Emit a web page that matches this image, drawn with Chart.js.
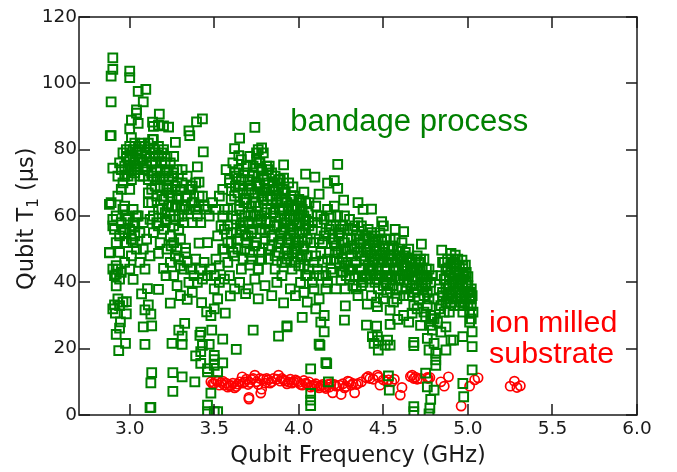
<!DOCTYPE html>
<html>
<head>
<meta charset="utf-8">
<style>
html, body { margin: 0; padding: 0; background: #fff; }
#wrap { width: 677px; height: 472px; }
</style>
<script src="https://cdn.jsdelivr.net/npm/chart.js@4"></script>
</head>
<body>
<div id="wrap"><canvas id="chart" width="677" height="472"></canvas></div>
<script>
// [frequency GHz, T1 us]
const bandageTop = [[2.9,107.7],[2.9,104.2],[2.89,102.2],[3,103.7],[3,101.7],[3.05,97.6],[3.095,98.2],[3.08,94.4],[2.89,94.4],[3.04,92],[3.04,91],[3.01,88.9],[3.05,87.9],[3,86.3],[2.885,84.2],[2.89,84.2],[3.01,83.6],[3.175,90.7],[3.135,88.3],[3.17,87.4],[3.2,87.2],[3.23,86.8],[3.14,87],[3.43,89.3],[3.395,88.4],[3.35,85.7],[3.355,84.2],[3.27,82.2],[3.135,83.1],[3.435,79.3],[2.9,74.4],[3.74,86.7],[3.65,83.5],[3.62,80.3],[3.645,78.2],[3.76,80],[3.78,80.5],[3.75,79],[3.91,75.4],[4.23,75.6],[4.04,72.6],[4.095,71.7],[4.17,69.9],[4.21,70.7],[4.23,68.3],[3.965,68.8],[3.91,71.4],[4.03,67.2],[4.12,66.6],[4.265,64.8],[4.35,64],[4.38,62],[4.43,62.1],[4.49,58.3],[4.5,57],[4.57,56],[4.62,55.3],[4.725,51.5],[4.845,49.7],[4.9,48.7],[4.925,48.2],[4.965,46.7],[4.985,45.2],[5,41.7]];

const bandageLeft = [[2.88,63.5],[2.89,64],[2.9,59],[2.91,56],[2.93,66],[2.95,68],[2.96,62],[2.92,52],[2.94,49],[2.88,49],[2.96,56],[2.93,44],[2.95,43],[2.97,46],[2.92,42.5],[2.94,41],[2.98,52],[2.99,59],[2.97,63],[3,68],[2.95,74],[2.97,75],[2.99,72],[3,77],[2.98,78],[3.01,74],[2.96,70],[3.02,80],[3.03,76],[3.04,79],[3.05,74],[3.06,81],[3.07,77],[3.08,72],[3.09,79],[3.1,75],[3.11,82],[3.12,78],[3.13,73],[3.14,80],[3.15,76],[3.16,71],[3.17,78],[3.18,74],[3.19,79],[3.2,72],[3.21,76],[3.22,69],[3.11,67],[3.13,64],[3.15,69],[3.17,62],[3.19,66],[3.21,61],[3.23,67],[3.25,72],[3.27,69],[3.28,74],[3.29,65],[3.31,70],[3.32,62],[3.34,66],[3.37,69],[3.39,62],[3.41,66],[3.44,63],[3.25,63],[3.27,59],[3.29,56],[3.31,60],[3.37,64],[3.02,62],[3.03,57],[3.05,60],[3.06,55],[3.08,58],[3.1,53],[3.12,59],[3.14,55],[3.16,58],[3.18,52],[3.2,56],[3.22,59],[3.24,54],[3.01,48],[3,44],[3.02,52],[3.04,50],[3.06,46],[3.08,50],[3.09,44],[3.12,48],[3.17,48.7],[3.245,51],[3.2,44.2],[3.215,42],[2.88,48.9],[2.92,38.9],[3.02,40.9],[3.105,38.1],[3.17,37.9],[3.07,36.5],[3.11,33.2],[3.09,31.7],[3.125,30.4],[2.91,33.2],[2.915,30.7],[2.98,34.2],[2.98,30.5],[2.945,28.1],[2.94,26.2],[2.92,24.3],[2.975,21.6],[2.935,19.4],[3.09,21.3],[3.08,26.6],[3.13,26.9],[3.13,12.8],[3.125,9.7],[3.125,2.3],[3.12,2.2],[3.255,12.8],[3.31,11.5],[3.385,10],[3.255,7.1],[3.48,6.6],[3.46,3],[3.46,1],[3.5,1],[3.52,1],[3.325,27.6],[3.29,25.6],[3.31,23.8],[3.25,21.6],[3.31,21.3],[3.42,25],[3.415,24],[3.485,25.6],[3.55,22.9],[3.47,21.3],[3.63,19.8],[3.39,17.8],[3.42,19.1],[3.42,15.6],[3.5,18],[3.5,16.7],[3.5,15],[3.55,15.7],[3.46,14],[3.46,13],[3.52,13],[3.43,21],[3.24,33.7],[3.34,34.9],[3.28,39],[3.3,36],[3.26,42],[3.32,44],[3.35,40],[3.37,37],[3.29,47],[3.33,49],[3.43,41],[3.42,44],[3.44,46],[3.46,42],[3.425,33.9],[3.455,31.1],[3.48,30],[3.5,32],[3.52,35],[3.565,30.7],[3.595,35.9],[3.5,38],[3.53,40],[3.48,44],[3.51,47],[3.55,50],[3.46,52]];

const bandageWest = [[2.93,72],[2.94,76],[2.96,79],[2.97,72],[2.98,80],[2.99,75],[3,81],[3.01,71],[3.02,78],[3.03,82],[3.03,73],[3.04,75],[3.05,80],[3.06,77],[3.06,72],[3.07,82],[3.08,76],[3.09,74],[3.09,81],[3.1,78],[3.11,71],[3.12,80],[3.13,76],[3.14,72],[3.14,83],[3.15,79],[3.16,74],[3.17,81],[3.18,71],[3.19,76],[3.2,80],[3.21,73],[3.22,78],[3.23,71],[3.24,76],[3.25,68],[3.26,73],[3.11,64],[3.13,68],[3.14,60],[3.16,66],[3.17,57],[3.18,69],[3.19,62],[3.2,65],[3.21,58],[3.22,68],[3.23,63],[3.24,60],[3.25,66],[3.26,57],[3.27,63],[3.28,66],[3.29,60],[3.3,68],[3.31,63],[3.32,58],[3.33,66],[3.34,72],[3.35,62],[3.36,68],[3.37,58],[3.38,64],[3.39,70],[3.4,60],[3.41,63],[3.42,58],[3.43,66],[2.9,57],[2.92,60],[2.94,54],[2.95,58],[2.97,55],[2.98,60],[3,56],[3.01,53],[3.02,58],[3.03,54],[3.04,60],[2.9,44],[2.91,42],[2.92,45],[2.9,32],[2.93,35],[2.94,33],[2.96,34],[3.45,62],[3.47,60],[3.49,64],[3.51,62],[3.53,66],[3.55,60],[3.56,56],[3.26,52],[3.28,50],[3.3,53],[3.27,48],[3.24,46],[3.22,50],[3.3,45],[3.34,46],[3.36,44],[3.39,47],[3.41,51.8],[3.33,50.3],[3.5,42],[3.53,45],[3.56,41],[3.58,52],[3.52,54],[3.54,57],[3.4,40],[3.38,42],[3.33,63],[3.35,68],[3.28,70],[3.31,74],[3.26,78],[3.22,74],[3.4,74.8],[3.41,70.2]];

const bandageCore = [[3.55,68],[3.56,62],[3.57,74],[3.58,57],[3.59,70],[3.6,65],[3.61,60],[3.62,73],[3.63,55],[3.64,67],[3.65,62],[3.66,71],[3.67,58],[3.68,65],[3.69,75],[3.7,61],[3.71,69],[3.72,55],[3.73,73],[3.74,64],[3.75,70],[3.76,58],[3.77,76],[3.78,66],[3.79,72],[3.8,61],[3.81,68],[3.82,74],[3.83,56],[3.84,65],[3.85,70],[3.86,60],[3.87,66],[3.88,71],[3.89,54],[3.9,62],[3.91,67],[3.92,58],[3.93,64],[3.94,52],[3.95,60],[3.96,65],[3.97,55],[3.98,62],[3.99,50],[4,58],[4.01,63],[4.02,53],[4.03,60],[4.04,56],[4.05,48],[4.06,64],[4.07,52],[4.08,58],[4.09,46],[3.58,62],[3.59,71],[3.6,55],[3.61,76],[3.61,49],[3.62,66],[3.63,59],[3.63,72],[3.64,50],[3.65,69],[3.65,63],[3.66,77],[3.66,56],[3.67,47],[3.67,68],[3.68,73],[3.68,60],[3.69,52],[3.69,65],[3.7,71],[3.7,58],[3.71,78],[3.71,49],[3.72,63],[3.72,68],[3.73,56],[3.73,75],[3.74,60],[3.74,67],[3.75,52],[3.75,77],[3.76,72],[3.76,63],[3.77,56],[3.77,69],[3.78,47],[3.78,74],[3.78,60],[3.79,65],[3.79,79],[3.8,68],[3.8,55],[3.81,75],[3.81,62],[3.82,70],[3.82,50],[3.83,58],[3.83,66],[3.84,73],[3.84,54],[3.85,61],[3.85,68],[3.86,48],[3.86,72],[3.87,57],[3.87,64],[3.88,52],[3.88,68],[3.89,60],[3.89,71],[3.9,46],[3.9,65],[3.91,56],[3.91,62],[3.92,50],[3.92,67],[3.93,59],[3.93,47],[3.94,63],[3.94,70],[3.95,54],[3.95,57],[3.96,62],[3.96,49],[3.97,66],[3.97,59],[3.98,53],[3.98,46],[3.99,63],[3.99,57],[4,52],[4,65],[4.01,47],[4.01,60],[4.02,55],[4.02,62],[4.03,50],[4.03,45],[4.04,59],[4.04,64],[4.05,53],[4.05,42],[4.06,57],[3.625,69],[3.645,74],[3.655,57],[3.675,64],[3.685,54],[3.695,75],[3.705,67],[3.715,60],[3.725,72],[3.735,51],[3.745,64],[3.755,69],[3.765,76],[3.775,59],[3.785,67],[3.795,71],[3.805,58],[3.815,66],[3.825,75],[3.835,62],[3.845,69],[3.855,57],[3.865,65],[3.875,70],[3.885,62],[3.895,55],[3.905,68],[3.915,59],[3.925,64],[3.935,53],[3.945,60],[3.955,66],[3.965,56],[3.975,62],[3.985,51],[3.995,60],[4.005,55],[4.015,64],[4.025,51],[4.035,57],[4.045,48],[4.055,61],[3.56,50],[3.58,46],[3.6,52],[3.62,48],[3.64,53],[3.66,44],[3.68,50],[3.7,54],[3.72,47],[3.74,51],[3.76,44],[3.78,49],[3.8,53],[3.82,47],[3.84,51],[3.86,44],[3.88,49],[3.9,53],[3.92,46],[3.94,48],[3.96,44],[3.98,50],[4,45],[4.02,48],[4.04,42],[4.06,44],[4.08,40],[3.71,45.2],[3.76,44],[3.685,36.6],[3.76,35],[3.91,33.8],[3.73,25.6],[3.88,23.8],[3.93,26.6],[3.93,26.9],[3.59,42],[3.62,38],[3.65,40],[3.7,38],[3.74,41],[3.8,39],[3.84,36],[3.87,40],[3.9,42],[3.95,38],[3.98,36],[4.01,40],[4.03,37],[4.02,29.4],[4.05,34],[4.15,25.1],[4.12,21.4],[4.125,21],[4.16,15.8],[4.165,15.5],[4.07,13.9],[4.07,6.5],[4.07,4.5],[4.07,2.8],[4.175,10],[4.275,32.9],[4.27,28.6],[4.1,32],[4.15,30],[4.12,35],[4.16,38],[4.13,28],[4.09,38]];

const bandageRidge = [[4.08,56],[4.09,52],[4.1,63],[4.1,48],[4.11,58],[4.12,42],[4.12,53],[4.13,60],[4.14,46],[4.14,52],[4.15,59],[4.16,42],[4.16,55],[4.17,62],[4.18,49],[4.18,56],[4.19,44],[4.19,60],[4.2,53],[4.21,47],[4.21,63],[4.22,57],[4.22,51],[4.23,60],[4.24,46],[4.24,55],[4.25,50],[4.26,43],[4.26,57],[4.27,52],[4.27,60],[4.28,46],[4.29,56],[4.29,50],[4.3,44],[4.3,59],[4.31,53],[4.31,48],[4.32,56],[4.33,42],[4.33,50],[4.34,54],[4.34,46],[4.35,58],[4.36,44],[4.36,52],[4.37,48],[4.37,57],[4.38,53],[4.39,42],[4.39,47],[4.4,54],[4.4,50],[4.41,45],[4.41,56],[4.42,41],[4.42,51],[4.43,48],[4.43,55],[4.44,44],[4.44,52],[4.45,47],[4.45,54],[4.46,41],[4.46,50],[4.47,53],[4.47,44],[4.48,48],[4.48,55],[4.49,42],[4.49,46],[4.5,51],[4.5,39],[4.51,48],[4.51,53],[4.52,44],[4.52,41],[4.53,50],[4.53,46],[4.54,38],[4.54,53],[4.55,42],[4.55,47],[4.56,50],[4.56,44],[4.57,41],[4.57,53],[4.58,47],[4.58,38],[4.59,44],[4.59,50],[4.6,41],[4.6,47],[4.61,52],[4.61,38],[4.62,45],[4.62,48],[4.63,42],[4.63,49],[4.64,46],[4.64,40],[4.65,50],[4.65,36],[4.66,43],[4.66,46],[4.67,39],[4.67,47],[4.68,44],[4.68,37],[4.69,47],[4.69,41],[4.7,44],[4.7,48],[4.71,39],[4.71,35],[4.72,42],[4.72,47],[4.73,40],[4.73,44],[4.74,36],[4.74,47],[4.75,42],[4.75,39],[4.76,37],[4.76,41],[4.77,44],[4.77,35],[4.78,40],[4.11,60],[4.13,49],[4.15,54],[4.17,47],[4.19,57],[4.21,52],[4.23,49],[4.25,56],[4.27,45],[4.29,53],[4.31,44],[4.33,57],[4.35,49],[4.37,44],[4.39,54],[4.41,49],[4.43,44],[4.45,51],[4.47,47],[4.49,53],[4.51,44],[4.53,42],[4.55,51],[4.57,46],[4.59,41],[4.61,47],[4.63,45],[4.65,42],[4.67,44],[4.69,44],[4.71,46],[4.73,42],[4.11,44],[4.14,42],[4.17,40],[4.2,43],[4.22,38],[4.25,40.7],[4.275,38],[4.34,38],[4.32,39],[4.35,36],[4.38,40],[4.43,36],[4.46,34],[4.5,35],[4.56,34],[4.405,33.4],[4.465,32.7],[4.4,27.1],[4.46,26.8],[4.54,31.6],[4.585,28.8],[4.54,27.3],[4.62,30],[4.65,28],[4.67,30.7],[4.72,27],[4.75,29.6],[4.78,30],[4.79,29],[4.78,27],[4.76,33],[4.74,31],[4.8,29],[4.215,49],[4.235,54],[4.255,47],[4.275,50],[4.295,44],[4.315,51],[4.335,46],[4.355,53],[4.375,41],[4.395,50],[4.415,53],[4.435,46],[4.455,42],[4.475,50],[4.495,49],[4.515,40],[4.535,48],[4.555,39],[4.575,44],[4.595,48],[4.615,42],[4.635,38],[4.655,47],[4.675,41],[4.695,38],[4.715,44],[4.735,38],[4.755,44],[4.5,47],[4.48,42],[4.45,40],[4.42,44],[4.4,42],[4.37,39],[4.3,41],[4.28,42],[4.47,38],[4.52,37],[4.58,35],[4.62,36],[4.68,33],[4.7,32]];

const bandageTail = [[4.79,42],[4.8,35],[4.82,28],[4.83,32],[4.84,25],[4.83,38],[4.84,42],[4.84,33],[4.85,46],[4.85,36],[4.86,41],[4.86,31],[4.87,44],[4.87,38],[4.88,47],[4.88,35],[4.89,42],[4.89,39],[4.9,45],[4.9,34],[4.91,41],[4.91,37],[4.92,46],[4.92,44],[4.93,40],[4.93,35],[4.94,47],[4.94,42],[4.95,37],[4.95,45],[4.96,41],[4.96,34],[4.97,43],[4.97,39],[4.98,37],[4.98,42],[4.99,35],[4.99,40],[5,39],[5,33],[5.01,37],[5.01,31],[5.02,35],[5.02,38],[4.85,37],[4.86,46],[4.87,41],[4.88,44],[4.89,36],[4.9,47],[4.91,40],[4.92,33],[4.93,45],[4.94,38],[4.95,43],[4.96,36],[4.97,41],[4.98,34],[4.99,39],[5,37],[5.01,35],[5.02,33],[5.03,31],[5.02,29],[5.025,36],[4.99,43],[4.97,31],[4.95,33],[4.93,37],[4.91,35],[4.89,31],[4.87,34],[5.01,28],[4.95,40],[4.97,45],[4.9,43],[4.435,23.6],[4.465,23.6],[4.47,22.4],[4.445,21.6],[4.47,19.6],[4.525,22.6],[4.54,21.1],[4.51,21.1],[4.68,21.9],[4.68,20.9],[4.76,23.1],[4.77,19.6],[4.79,25.6],[4.8,21.6],[4.81,18.6],[4.81,16.6],[4.81,15],[4.87,19.6],[4.87,26.6],[4.9,22.6],[4.915,22.6],[4.97,23.6],[5.025,25.1],[5.025,20.6],[5.025,13.6],[4.97,9.5],[4.975,5.5],[4.53,11.8],[4.535,7.5],[4.68,2.5],[4.68,1],[4.75,12.6],[4.76,8.5],[4.8,7.5],[4.78,4.7],[4.775,2.1],[4.77,0.3]];

const milledPoints = [[3.48,10],[3.5,9.5],[3.52,10.2],[3.54,9.8],[3.56,9],[3.58,8.4],[3.6,8.9],[3.62,8.2],[3.64,9.3],[3.665,11.5],[3.68,10],[3.7,9.2],[3.705,4.8],[3.705,5.3],[3.72,10.7],[3.74,12],[3.75,10],[3.775,6.6],[3.78,7.8],[3.79,10.8],[3.81,11],[3.83,9.6],[3.85,11],[3.88,12],[3.89,10.2],[3.91,10.6],[3.93,9.4],[3.95,10.8],[3.97,10],[3.99,10.2],[4.01,9.2],[4.03,10.4],[4.05,9.3],[4.07,8.4],[4.09,9],[4.11,8.7],[4.13,8.8],[4.15,8.5],[4.17,9.2],[4.19,9.4],[4.2,6.7],[4.22,8.7],[4.25,6.2],[4.26,9.4],[4.28,8.6],[4.3,10],[4.32,9.5],[4.33,6.7],[4.35,9.5],[4.4,11.2],[4.42,11],[4.465,12],[4.48,9],[4.5,10.6],[4.53,10.6],[4.565,10.8],[4.6,6],[4.61,8.3],[4.67,12],[4.68,11],[4.7,10.8],[4.76,11.3],[4.775,11.3],[4.84,10],[4.86,8.7],[4.885,11.5],[4.96,2.7],[5.01,8.7],[5.04,10.6],[5.06,11.2],[5.25,8.7],[5.275,10.2],[5.29,8.3],[5.31,8.8],[3.49,9.4],[3.51,10.4],[3.53,9],[3.55,10.2],[3.57,9.6],[3.59,8.8],[3.61,9.6],[3.63,8.6],[3.65,10],[3.67,9.6],[3.69,10.8],[3.71,9.8],[3.73,11],[3.76,9.2],[3.77,11],[3.8,9.6],[3.82,10.6],[3.84,10],[3.87,10.8],[3.9,11],[3.92,10.2],[3.94,10],[3.96,9.6],[3.98,10.6],[4,9.8],[4.02,9],[4.04,9.6],[4.06,10],[4.08,8.8],[4.1,9.4],[4.12,8.2],[4.14,9.2],[4.16,8],[4.18,8.4],[4.21,9.2],[4.24,9],[4.27,8.2],[4.29,10.2],[4.31,9],[4.34,9.2],[4.37,10],[4.41,11.6],[4.44,10.8],[4.47,11.4],[4.52,10],[4.55,10],[4.66,11.6],[4.69,11.4],[4.72,11],[4.765,11]];

const bandagePoints = bandageTop.concat(bandageLeft, bandageWest, bandageCore, bandageRidge, bandageTail);

const xTickValues = [3, 3.5, 4, 4.5, 5, 5.5, 6];
const yTickValues = [0, 20, 40, 60, 80, 100, 120];

const darkGreen = '#008000';
const red = '#ff0000';
const inkColor = '#1a1a1a';

const toXY = p => ({ x: p[0], y: p[1] });

// spine and inward ticks on all four sides, text notes in data coordinates
const framePlugin = {
    id: 'frame',
    afterDatasetsDraw(chart) {
        const { ctx, chartArea: a, scales } = chart;
        ctx.save();
        ctx.strokeStyle = inkColor;
        ctx.lineWidth = 1.5;
        ctx.strokeRect(a.left, a.top, a.right - a.left, a.bottom - a.top);
        ctx.beginPath();
        xTickValues.forEach(v => {
            const x = Math.round(scales.x.getPixelForValue(v));
            ctx.moveTo(x, a.bottom); ctx.lineTo(x, a.bottom - 11);
            ctx.moveTo(x, a.top); ctx.lineTo(x, a.top + 11);
        });
        yTickValues.forEach(v => {
            const y = Math.round(scales.y.getPixelForValue(v));
            ctx.moveTo(a.left, y); ctx.lineTo(a.left + 11, y);
            ctx.moveTo(a.right, y); ctx.lineTo(a.right - 11, y);
        });
        ctx.stroke();

        ctx.font = '31px "Liberation Sans"';
        ctx.textBaseline = 'alphabetic';
        ctx.fillStyle = darkGreen;
        ctx.fillText('bandage process', scales.x.getPixelForValue(3.95), scales.y.getPixelForValue(85.5));
        ctx.font = '30.4px "Liberation Sans"';
        ctx.fillStyle = red;
        ctx.fillText('ion milled', scales.x.getPixelForValue(5.125), scales.y.getPixelForValue(25));
        ctx.fillText('substrate', scales.x.getPixelForValue(5.125), scales.y.getPixelForValue(15.8));

        // y title by hand because of the subscript
        ctx.translate(33, 290);
        ctx.rotate(-Math.PI / 2);
        ctx.fillStyle = inkColor;
        ctx.font = '22.5px "DejaVu Sans"';
        let pen = 0;
        ctx.fillText('Qubit T', pen, 0);
        pen += ctx.measureText('Qubit T').width;
        ctx.font = '15px "DejaVu Sans"';
        ctx.fillText('1', pen, 5);
        pen += ctx.measureText('1').width;
        ctx.font = '22.5px "DejaVu Sans"';
        ctx.fillText(' (µs)', pen, 0);
        ctx.restore();
    }
};

new Chart(document.getElementById('chart'), {
    type: 'scatter',
    data: {
        datasets: [{
            data: bandagePoints.map(toXY),
            pointStyle: 'rect',
            pointRadius: 6.2,
            pointBorderWidth: 2,
            borderColor: darkGreen,
            backgroundColor: 'rgba(0,0,0,0)'
        }, {
            data: milledPoints.map(toXY),
            pointStyle: 'circle',
            pointRadius: 4.6,
            pointBorderWidth: 1.7,
            borderColor: red,
            backgroundColor: 'rgba(0,0,0,0)'
        }]
    },
    options: {
        responsive: false,
        animation: false,
        layout: { padding: { top: 17, right: 40, left: 0, bottom: 0 } },
        plugins: { legend: { display: false }, tooltip: { enabled: false } },
        scales: {
            x: {
                type: 'linear',
                min: 2.7,
                max: 6,
                afterBuildTicks(s) { s.ticks = xTickValues.map(v => ({ value: v })); },
                afterFit(s) { s.height = 57; },
                grid: { display: false, drawTicks: false },
                border: { display: false },
                ticks: {
                    color: inkColor,
                    padding: 3,
                    maxRotation: 0,
                    font: { family: 'DejaVu Sans', size: 18.5 },
                    callback: v => v.toFixed(1)
                },
                title: {
                    display: true,
                    text: 'Qubit Frequency (GHz)',
                    color: inkColor,
                    padding: { top: 2, bottom: 2 },
                    font: { family: 'DejaVu Sans', size: 22.5 }
                }
            },
            y: {
                min: 0,
                max: 120,
                afterBuildTicks(s) { s.ticks = yTickValues.map(v => ({ value: v })); },
                afterFit(s) { s.width = 79; },
                grid: { display: false, drawTicks: false },
                border: { display: false },
                ticks: {
                    color: inkColor,
                    padding: 2,
                    font: { family: 'DejaVu Sans', size: 18.5 }
                }
            }
        }
    },
    plugins: [framePlugin]
});
</script>
</body>
</html>
